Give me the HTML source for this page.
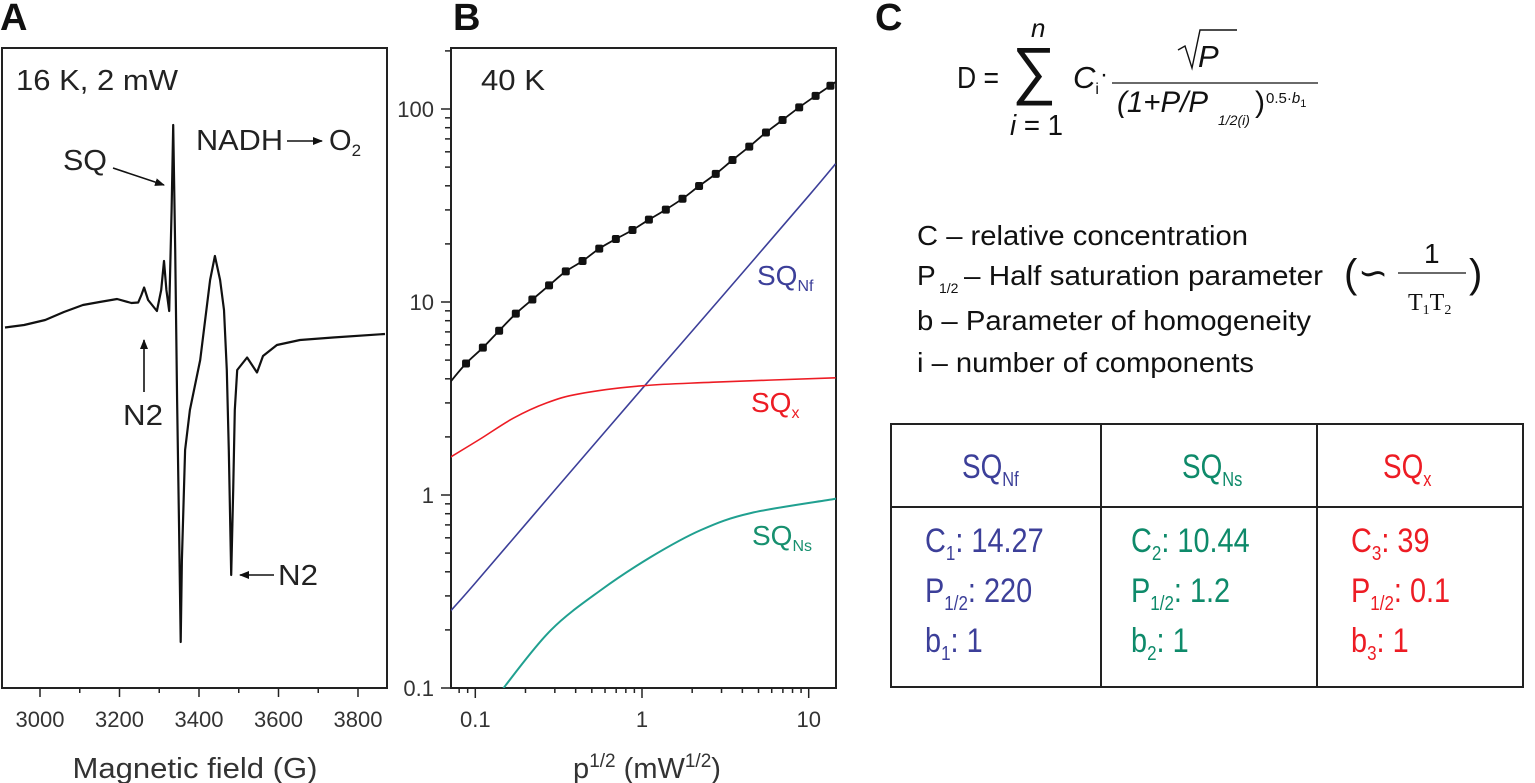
<!DOCTYPE html>
<html><head><meta charset="utf-8"><style>
html,body{margin:0;padding:0;background:#fff;}
svg{display:block;font-family:"Liberation Sans",Arial,sans-serif;}
</style></head><body>
<svg id="fig" width="1535" height="783" viewBox="0 0 1535 783">
<defs>
<clipPath id="clipB"><rect x="451" y="48" width="385" height="640"/></clipPath>
<clipPath id="clipA"><rect x="2" y="48" width="385" height="640"/></clipPath>
<marker id="ah" markerWidth="10" markerHeight="8" refX="9" refY="4" orient="auto" markerUnits="userSpaceOnUse"><path d="M0,0 L10,4 L0,8 z" fill="#111"/></marker>
</defs>
<text x="0" y="30" font-size="38" font-weight="bold" fill="#111">A</text>
<text x="453" y="30" font-size="38" font-weight="bold" fill="#111">B</text>
<text x="875" y="30" font-size="38" font-weight="bold" fill="#111">C</text>

<g id="panelA">
<rect x="2" y="48" width="385" height="640" fill="none" stroke="#222" stroke-width="2"/>
<g id="ticksA"></g>
<g clip-path="url(#clipA)"><path id="traceA" fill="none" stroke="#111" stroke-width="2.2" stroke-linejoin="round"/></g>
<text x="16" y="90" font-size="29" fill="#222" textLength="162" lengthAdjust="spacingAndGlyphs">16 K, 2 mW</text>
<text x="63" y="170" font-size="29" fill="#222" textLength="44" lengthAdjust="spacingAndGlyphs">SQ</text>
<line x1="113" y1="168" x2="164" y2="185" stroke="#111" stroke-width="1.6" marker-end="url(#ah)"/>
<text x="196" y="150" font-size="29" fill="#222" textLength="87" lengthAdjust="spacingAndGlyphs">NADH</text>
<line x1="287" y1="141" x2="322" y2="141" stroke="#111" stroke-width="1.6" marker-end="url(#ah)"/>
<text x="329" y="150" font-size="29" fill="#222">O<tspan font-size="17" dy="6">2</tspan></text>
<text x="123" y="425" font-size="29" fill="#222" textLength="40" lengthAdjust="spacingAndGlyphs">N2</text>
<line x1="144" y1="392" x2="144" y2="340" stroke="#111" stroke-width="1.6" marker-end="url(#ah)"/>
<text x="278" y="585" font-size="29" fill="#222" textLength="40" lengthAdjust="spacingAndGlyphs">N2</text>
<line x1="274" y1="575" x2="240" y2="575" stroke="#111" stroke-width="1.6" marker-end="url(#ah)"/>
<text x="195" y="778" font-size="29" fill="#333" text-anchor="middle" textLength="245" lengthAdjust="spacingAndGlyphs">Magnetic field (G)</text>
</g>

<g id="panelB">
<rect x="451" y="48" width="385" height="640" fill="none" stroke="#222" stroke-width="2"/>
<g id="ticksB"></g>
<g id="curvesB" clip-path="url(#clipB)"></g>
<text x="481" y="90" font-size="29" fill="#222" textLength="64" lengthAdjust="spacingAndGlyphs">40 K</text>
<text x="757" y="285" font-size="28" fill="#3c3f99">SQ<tspan font-size="16" dy="6">Nf</tspan></text>
<text x="751" y="412" font-size="28" fill="#ed1c24">SQ<tspan font-size="16" dy="6">x</tspan></text>
<text x="752" y="545" font-size="28" fill="#17906f">SQ<tspan font-size="16" dy="6">Ns</tspan></text>
<text x="647" y="778" font-size="29" fill="#333" text-anchor="middle">p<tspan font-size="19" dy="-11">1/2</tspan><tspan dy="11"> (mW</tspan><tspan font-size="19" dy="-11">1/2</tspan><tspan dy="11">)</tspan></text>
</g>

<g fill="#111">
<text x="957" y="88" font-size="31" textLength="42" lengthAdjust="spacingAndGlyphs">D =</text>
<text x="1012" y="92" font-size="64" textLength="44" lengthAdjust="spacingAndGlyphs">∑</text>
<text x="1031" y="37" font-size="26" font-style="italic">n</text>
<text x="1010" y="135" font-size="29" textLength="53" lengthAdjust="spacingAndGlyphs"><tspan font-style="italic">i</tspan> = 1</text>
<text x="1073" y="88" font-size="31" font-style="italic">C<tspan font-style="normal" font-size="16" dy="6">i</tspan></text>
<text x="1100" y="82" font-size="24">·</text>
<line x1="1112" y1="83" x2="1318" y2="83" stroke="#111" stroke-width="1.3"/>
<path d="M1178,50 L1185,46 L1192,68 L1200,30 L1237,30" fill="none" stroke="#111" stroke-width="1.4"/>
<text x="1198" y="67" font-size="31" font-style="italic">P</text>
<text x="1117" y="112" font-size="30" font-style="italic" textLength="91" lengthAdjust="spacingAndGlyphs">(1+P/P</text>
<text x="1218" y="125" font-size="14" font-style="italic">1/2(i)</text>
<text x="1255" y="112" font-size="30">)</text>
<text x="1266" y="103" font-size="15">0.5·<tspan font-style="italic">b</tspan><tspan font-size="11" dy="4">1</tspan></text>
</g>

<g fill="#111" font-size="28">
<text x="917" y="245" textLength="331" lengthAdjust="spacingAndGlyphs">C – relative concentration</text>
<text x="917" y="285">P</text>
<text x="939" y="293" font-size="14">1/2</text>
<text x="964" y="285" textLength="359" lengthAdjust="spacingAndGlyphs">– Half saturation parameter</text>
<text x="917" y="330" textLength="394" lengthAdjust="spacingAndGlyphs">b – Parameter of homogeneity</text>
<text x="917" y="372" textLength="337" lengthAdjust="spacingAndGlyphs">i – number of components</text>
<text x="1344" y="287" font-size="40">(</text>
<text x="1358" y="285" font-size="36">∽</text>
<text x="1424" y="263" font-size="28">1</text>
<line x1="1398" y1="273" x2="1466" y2="273" stroke="#111" stroke-width="1.2"/>
<text x="1408" y="310" font-size="24" font-family="Liberation Serif, serif">T<tspan font-size="14" dy="4">1</tspan><tspan dy="-4">T</tspan><tspan font-size="14" dy="4">2</tspan></text>
<text x="1469" y="287" font-size="40">)</text>
</g>

<g font-size="34">
<rect x="891" y="424" width="632" height="263" fill="none" stroke="#222" stroke-width="2"/>
<line x1="1101" y1="424" x2="1101" y2="687" stroke="#222" stroke-width="2"/>
<line x1="1317" y1="424" x2="1317" y2="687" stroke="#222" stroke-width="2"/>
<line x1="891" y1="507" x2="1523" y2="507" stroke="#222" stroke-width="2"/>
<text transform="translate(962,478) scale(0.82,1)" fill="#3c3f99">SQ<tspan font-size="20" dy="8">Nf</tspan></text>
<text transform="translate(1182,478) scale(0.82,1)" fill="#0e8a6a">SQ<tspan font-size="20" dy="8">Ns</tspan></text>
<text transform="translate(1383,478) scale(0.82,1)" fill="#ed1c24">SQ<tspan font-size="20" dy="8">x</tspan></text>
<g fill="#3c3f99">
<text transform="translate(925,552) scale(0.85,1)">C<tspan font-size="20" dy="8">1</tspan><tspan dy="-8">: 14.27</tspan></text>
<text transform="translate(925,602) scale(0.85,1)">P<tspan font-size="20" dy="8">1/2</tspan><tspan dy="-8">: 220</tspan></text>
<text transform="translate(925,652) scale(0.85,1)">b<tspan font-size="20" dy="8">1</tspan><tspan dy="-8">: 1</tspan></text>
</g>
<g fill="#0e8a6a">
<text transform="translate(1131,552) scale(0.85,1)">C<tspan font-size="20" dy="8">2</tspan><tspan dy="-8">: 10.44</tspan></text>
<text transform="translate(1131,602) scale(0.85,1)">P<tspan font-size="20" dy="8">1/2</tspan><tspan dy="-8">: 1.2</tspan></text>
<text transform="translate(1131,652) scale(0.85,1)">b<tspan font-size="20" dy="8">2</tspan><tspan dy="-8">: 1</tspan></text>
</g>
<g fill="#ed1c24">
<text transform="translate(1351,552) scale(0.85,1)">C<tspan font-size="20" dy="8">3</tspan><tspan dy="-8">: 39</tspan></text>
<text transform="translate(1351,602) scale(0.85,1)">P<tspan font-size="20" dy="8">1/2</tspan><tspan dy="-8">: 0.1</tspan></text>
<text transform="translate(1351,652) scale(0.85,1)">b<tspan font-size="20" dy="8">3</tspan><tspan dy="-8">: 1</tspan></text>
</g>
</g>
</svg>
<script>
// Panel A data: magnetic field (G) and signal amplitude (a.u.)
const fieldA = [2912,2960,3013,3060,3108,3150,3194,3230,3247,3255,3262,3272,3294,3305,3312,3318,3325,3331,3335,3340,3345,3350,3354,3357,3365,3377,3403,3428,3440,3453,3463,3470,3475,3481,3486,3490,3496,3521,3546,3561,3596,3654,3737,3868];
const signalA = [2.5,5,10,18,25,28,31,27,27.5,35,42.5,30,19,40,69,40,19,120,205,80,-70,-200,-312,-230,-120,-80,-30,50,74,50,20,-40,-120,-245,-160,-80,-40,-27.5,-42.5,-26,-15,-10,-7.5,-4];
const ticksAx = [3000,3200,3400,3600,3800];

// Panel B data
const xTotalPts = [0.088,0.111,0.139,0.175,0.22,0.277,0.349,0.44,0.554,0.697,0.877,1.1,1.39,1.75,2.2,2.77,3.49,4.4,5.54,6.97,8.77,11.0,13.5];
const totalPts = [4.8,5.8,7.1,8.7,10.3,12.2,14.4,16.3,18.9,21.2,23.6,26.7,30.1,34.3,39.9,46.1,54.4,63.8,75.5,87.7,102,117,132];
const xTotalLine = [0.0708,0.088,0.111,0.139,0.175,0.22,0.277,0.349,0.44,0.554,0.697,0.877,1.1,1.39,1.75,2.2,2.77,3.49,4.4,5.54,6.97,8.77,11.0,13.5,14.5];
const totalLine = [3.85,4.8,5.8,7.1,8.7,10.3,12.2,14.4,16.3,18.9,21.2,23.6,26.7,30.1,34.3,39.9,46.1,54.4,63.8,75.5,87.7,102,117,132,138];
const xNf = [0.0708,0.1,0.3,1,3,10,14.5];
const yNf = [0.25,0.35,1.06,3.55,10.6,35.5,52];
const xX = [0.0708,0.107,0.169,0.268,0.425,1,2.68,14.5];
const yX = [1.57,1.95,2.5,3.0,3.35,3.68,3.84,4.05];
const xNs = [0.14,0.153,0.285,0.568,1.13,2.26,4.51,14.2,15];
const yNs = [0.09,0.104,0.2,0.322,0.477,0.659,0.807,0.953,0.96];
const yTicksB = [0.1,1,10,100];
const yTickLabelsB = ["0.1","1","10","100"];
const xTicksB = [0.1,1,10];
const xTickLabelsB = ["0.1","1","10"];

const NS = "http://www.w3.org/2000/svg";
function xA(f){return 40 + (f-3000)*0.3975;}
function yA(v){return 330 - v;}
function xB(x){return 642 + Math.log10(x)*166.7;}
function yB(y){return 495 - Math.log10(y)*193;}
function mk(tag, attrs, parent){const e=document.createElementNS(NS,tag);for(const k in attrs)e.setAttribute(k,attrs[k]);parent.appendChild(e);return e;}

let d="";
fieldA.forEach((f,i)=>{d+=(i?"L":"M")+xA(f).toFixed(1)+","+yA(signalA[i]).toFixed(1);});
document.getElementById("traceA").setAttribute("d",d);
const tA=document.getElementById("ticksA");
for(let f=2950; f<=3850; f+=50){
  if(f%100!==0) continue;
  const major = f%200===0;
  const l=mk("line",{x1:xA(f),x2:xA(f),y1:688,y2:major?697:693,stroke:"#222","stroke-width":1.5},tA);
  
  
}
ticksAx.forEach(f=>{
  const t=mk("text",{x:xA(f),y:727,"font-size":22,"text-anchor":"middle",fill:"#333"},tA);
  t.textContent=f;
  
  
});

const tB=document.getElementById("ticksB");
for(let e=-1;e<=2;e++){
  for(let m=1;m<=9;m++){
    const v=m*Math.pow(10,e);
    const y=yB(v); if(y<48) continue;
    const l=mk("line",{x1:451,x2:m===1?441:445,y1:y,y2:y,stroke:"#222","stroke-width":1.5},tB);
    
    
  }
}
yTicksB.forEach((v,i)=>{
  const t=mk("text",{x:434,y:yB(v)+8,"font-size":22,"text-anchor":"end",fill:"#333"},tB);
  t.textContent=yTickLabelsB[i];
  
  
});
for(let e=-2;e<=1;e++){
  for(let m=1;m<=9;m++){
    const v=m*Math.pow(10,e);
    const x=xB(v); if(x<451||x>836) continue;
    const l=mk("line",{x1:x,x2:x,y1:688,y2:m===1?698:693,stroke:"#222","stroke-width":1.5},tB);
    
    
  }
}
xTicksB.forEach((v,i)=>{
  const t=mk("text",{x:xB(v),y:727,"font-size":22,"text-anchor":"middle",fill:"#333"},tB);
  t.textContent=xTickLabelsB[i];
  
  
});

function pathFrom(xs,ys){
  const p=xs.map((x,i)=>[xB(x),yB(ys[i])]);
  let s="M"+p[0][0].toFixed(1)+","+p[0][1].toFixed(1);
  for(let i=0;i<p.length-1;i++){
    const p0=p[i-1]||p[i],p1=p[i],p2=p[i+1],p3=p[i+2]||p2;
    const c1=[p1[0]+(p2[0]-p0[0])/6,p1[1]+(p2[1]-p0[1])/6];
    const c2=[p2[0]-(p3[0]-p1[0])/6,p2[1]-(p3[1]-p1[1])/6];
    s+="C"+c1[0].toFixed(1)+","+c1[1].toFixed(1)+" "+c2[0].toFixed(1)+","+c2[1].toFixed(1)+" "+p2[0].toFixed(1)+","+p2[1].toFixed(1);
  }
  return s;
}
const cB=document.getElementById("curvesB");
const nf=mk("path",{d:pathFrom(xNf,yNf),fill:"none",stroke:"#3c3f99","stroke-width":1.6},cB);


const cx=mk("path",{d:pathFrom(xX,yX),fill:"none",stroke:"#ed1c24","stroke-width":1.6},cB);


const ns=mk("path",{d:pathFrom(xNs,yNs),fill:"none",stroke:"#20a090","stroke-width":2},cB);


const tl=mk("path",{d:pathFrom(xTotalLine,totalLine),fill:"none",stroke:"#111","stroke-width":1.8},cB);


xTotalPts.forEach((x,i)=>{
  const r=mk("rect",{x:xB(x)-4,y:yB(totalPts[i])-4,width:8,height:8,rx:2,fill:"#111"},cB);
  
  
});
</script>
</body></html>
